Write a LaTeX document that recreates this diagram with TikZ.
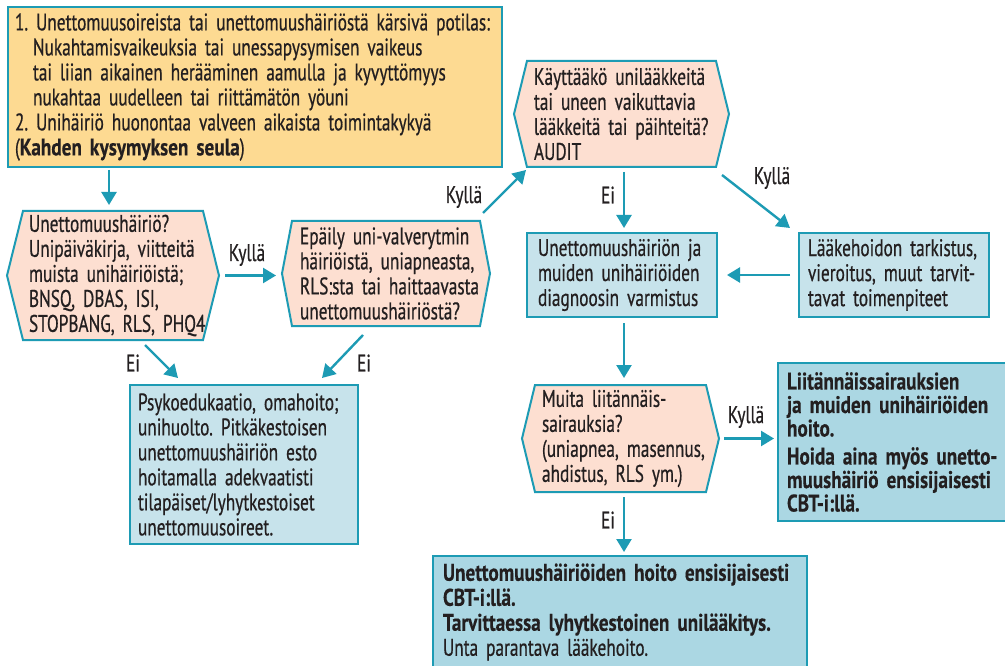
\documentclass[tikz,border=0pt]{standalone}
\usepackage{fontspec}
\setmainfont{PT Sans}[FakeStretch=0.72, FakeBold=0.6, BoldFeatures={FakeStretch=0.80, FakeBold=0.3}]
\usetikzlibrary{arrows.meta,calc,backgrounds}
\definecolor{tealc}{HTML}{1D9BB4}
\definecolor{orangef}{HTML}{FDDA92}
\definecolor{hexf}{HTML}{FDDFD1}
\definecolor{bluef}{HTML}{C7E3EB}
\definecolor{blued}{HTML}{ABD7E3}
\definecolor{txt}{HTML}{231F20}
\frenchspacing
\newcommand{\fs}{\fontsize{24}{25}\selectfont\frenchspacing\spaceskip=5pt plus 2pt minus 1pt\relax}
\newcommand{\fsl}{\fontsize{24}{23.5}\selectfont\frenchspacing\spaceskip=5pt plus 2pt minus 1pt\relax}
\newcommand{\hexpath}[2]{%
  \path[hexs] (#1.west) -- ($(#1.north west)+(#2,0)$) -- ($(#1.north east)+(-#2,0)$) -- (#1.east)
    -- ($(#1.south east)+(-#2,0)$) -- ($(#1.south west)+(#2,0)$) -- cycle;}
\tikzset{
  base/.style={text=txt, font=\fs, align=left, inner ysep=0pt, outer sep=0pt},
  topbox/.style={base, draw=tealc, line width=2pt, fill=orangef},
  bbox/.style={base, draw=tealc, line width=2pt, fill=bluef},
  dbox/.style={base, draw=tealc, line width=2pt, fill=blued},
  hexn/.style={base, draw=none},
  hexs/.style={draw=tealc, line width=2pt, fill=hexf, line join=miter},
  arr/.style={draw=tealc, line width=2.4pt, -{Triangle[length=13pt,width=15pt]}},
  lab/.style={text=txt, font=\fs, inner sep=0pt}
}
\begin{document}
\begin{tikzpicture}[x=1pt,y=-1pt]
\useasboundingbox (0,0) rectangle (1005,666);
% boxes
\node[topbox, minimum width=494, minimum height=160, text width=480, inner xsep=7] (top) at (255,87)
 {\mbox{1. Unettomuusoireista tai unettomuushäiriöstä kärsivä potilas:}\\
  \hspace*{18pt}Nukahtamisvaikeuksia tai unessapysymisen vaikeus\\
  \hspace*{18pt}\mbox{tai liian aikainen herääminen aamulla ja kyvyttömyys}\\
  \hspace*{18pt}nukahtaa uudelleen tai riittämätön yöuni\\
  2. Unihäiriö huonontaa valveen aikaista toimintakykyä\\
  (\textbf{Kahden kysymyksen seula})};
\node[hexn, minimum width=212, minimum height=129, text width=168, inner xsep=22] (h1) at (113,275.5)
 {Unettomuushäiriö?\\ \mbox{Unipäiväkirja, viitteitä}\\ \mbox{muista unihäiriöistä;}\\ \mbox{BNSQ, DBAS, ISI,}\\ \mbox{STOPBANG, RLS, PHQ4}};
\node[hexn, minimum width=208, minimum height=105, text width=172, inner xsep=18] (h2) at (386,273.5)
 {\mbox{Epäily uni-valverytmin}\\ \mbox{häiriöistä, uniapneasta,}\\ \mbox{RLS:sta tai haittaavasta}\\ unettomuushäiriöstä?};
\node[hexn, minimum width=215, minimum height=106, text width=175, inner xsep=20] (h3) at (621.5,114)
 {\mbox{Käyttääkö unilääkkeitä}\\ \mbox{tai uneen vaikuttavia}\\ \mbox{lääkkeitä tai päihteitä?}\\ AUDIT};
\node[bbox, minimum width=190, minimum height=84, text width=168, inner xsep=11] (diag) at (622,275)
 {\mbox{Unettomuushäiriön ja}\\ \mbox{muiden unihäiriöiden}\\ \mbox{diagnoosin varmistus}};
\node[bbox, minimum width=190, minimum height=84, text width=172, inner xsep=9] (laake) at (894,275)
 {\mbox{Lääkehoidon tarkistus,}\\ \mbox{vieroitus, muut tarvit-}\\ \mbox{tavat toimenpiteet}};
\node[hexn, minimum width=197, minimum height=107, text width=157, inner xsep=20] (h4) at (620.5,438.5)
 {\mbox{Muita liitännäis-}\\ sairauksia?\\ \mbox{(uniapnea, masennus,}\\ \mbox{ahdistus, RLS ym.)}};
\node[dbox, minimum width=232, minimum height=158, text width=214, inner xsep=9, font=\fsl] (liit) at (894,442)
 {\bfseries \mbox{Liitännäissairauksien}\\ \mbox{ja muiden unihäiriöiden}\\ hoito.\\[4.5pt] \mbox{Hoida aina myös unetto-}\\ \mbox{muushäiriö ensisijaisesti}\\ CBT-i:llä.};
\node[bbox, minimum width=228, minimum height=159, text width=212, inner xsep=8] (psy) at (244,464.5)
 {\mbox{Psykoedukaatio, omahoito;}\\ \mbox{unihuolto. Pitkäkestoisen}\\ \mbox{unettomuushäiriön esto}\\ \mbox{hoitamalla adekvaatisti}\\ \mbox{tilapäiset/lyhytkestoiset}\\ unettomuusoireet.};
\node[dbox, minimum width=374, minimum height=112, text width=354, inner xsep=10] (bot) at (620,612)
 {{\bfseries \mbox{Unettomuushäiriöiden hoito ensisijaisesti}\\ CBT-i:llä.\\ \mbox{Tarvittaessa lyhytkestoinen unilääkitys.}}\\ Unta parantava lääkehoito.};
% hexagon outlines behind text
\begin{scope}[on background layer]
  \fill[white] (0,0) rectangle (1005,666);
  \hexpath{h1}{16}
  \hexpath{h2}{10}
  \hexpath{h3}{13}
  \hexpath{h4}{13}
\end{scope}
% connectors
\draw[arr] ([yshift=-3pt]top.south -| 109,0) -- ([yshift=6pt]h1.north -| 109,0);
\draw[arr, shorten <=6pt, shorten >=6pt] (h1.east) -- (h1.east -| h2.west);
\draw[arr] ($(h2.north east)+(-7,-8)$) -- ($(h3.south west)+(12,3)$);
\draw[arr, shorten <=5pt, shorten >=5pt] (h3.south -| 624,0) -- (diag.north -| 624,0);
\draw[arr] ($(h3.south east)+(-7,8)$) -- ($(laake.north west)+(-9,-5)$);
\draw[arr, shorten <=9pt, shorten >=10pt] (laake.west) -- (diag.east);
\draw[arr, shorten <=6pt, shorten >=7pt] (diag.south -| 624,0) -- (h4.north -| 624,0);
\draw[arr, shorten <=5pt, shorten >=4pt] (h4.east) -- (h4.east -| liit.west);
\draw[arr, shorten <=5pt, shorten >=4pt] (h4.south -| 624,0) -- (bot.north -| 624,0);
\draw[arr] ($(h1.south)+(32,5)$) -- ($(psy.north west)+(48,-7)$);
\draw[arr] ($(h2.south west)+(81,9)$) -- ($(psy.north east)+(-36,-7)$);
% labels
\node[lab] (l1) at (247,255) {Kyllä};
\node[lab] (l2) at (464,197) {Kyllä};
\node[lab] (l3) at (608,195) {Ei};
\node[lab] (l4) at (772,178) {Kyllä};
\node[lab] (l5) at (746,417) {Kyllä};
\node[lab] (l6) at (608,520) {Ei};
\node[lab] (l7) at (133,363) {Ei};
\node[lab] (l8) at (364,363) {Ei};
\end{tikzpicture}
\end{document}
